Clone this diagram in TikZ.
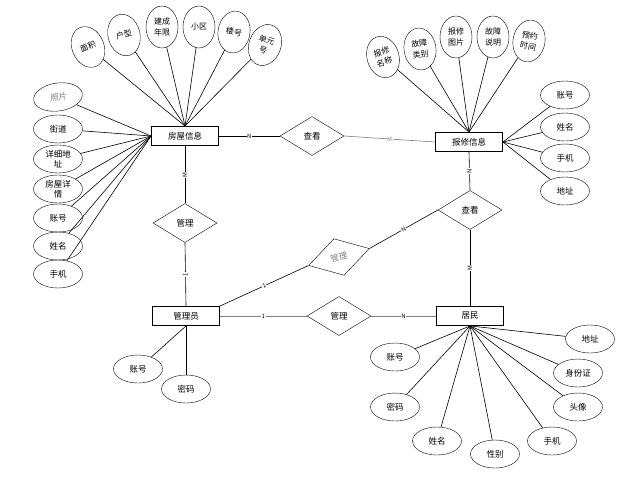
\documentclass[tikz,border=0pt]{standalone}
\usepackage{fontspec}
\setmainfont{Noto Sans CJK SC}
\newfontfamily\slantcjk[FakeSlant=0.2]{Noto Sans CJK SC}
\usetikzlibrary{shapes.geometric}
\begin{document}
\begin{tikzpicture}[x=1pt,y=-1pt,
  ent/.style={draw,line width=0.9pt,minimum width=67pt,minimum height=19pt,inner sep=0pt,font=\fontsize{8.5}{10}\selectfont},
  rel/.style={draw,diamond,aspect=1.64,minimum width=64pt,minimum height=39pt,inner sep=0pt,font=\fontsize{8.5}{10}\selectfont},
  attv/.style={draw,ellipse,minimum width=32pt,minimum height=42pt,inner sep=0pt,align=center,font=\fontsize{8}{10.5}\selectfont},
  atth/.style={draw,ellipse,minimum width=49pt,minimum height=28pt,inner sep=0pt,align=center,font=\fontsize{8.5}{10.5}\selectfont},
  lnk/.style={line width=0.6pt},
  card/.style={fill=white,inner sep=0.5pt,font=\fontsize{6}{6}\selectfont}
]
\useasboundingbox (0,0) rectangle (642,480);

% entities
\node[ent] (house) at (185,136) {房屋信息};
\node[ent] (repair) at (469,142) {报修信息};
\node[ent] (admin) at (186,316) {管理员};
\node[ent] (res) at (470,316) {居民};

% relations
\node[rel] (view1) at (312,136) {查看};
\node[rel] (mgr1) at (185,223) {管理};
\node[rel] (view2) at (470,210) {查看};
\node[rel] (mgr2) at (339,316) {管理};
\node[rel,rotate=15.6,text=gray,minimum width=63pt,minimum height=38pt] (mgr3) at (339,257) {管理};

% house top attributes
\node[attv,rotate=22] (a1) at (88,47) {面积};
\node[attv,rotate=14] (a2) at (124,35) {户型};
\node[attv] (a3) at (162,27) {建成\\年限};
\node[attv] (a4) at (199,27) {小区};
\node[attv,rotate=-8] (a5) at (234,32) {楼号};
\node[attv,rotate=-20] (a6) at (265,45) {单元\\号};
\foreach \n in {a1,a2,a3,a4,a5,a6} \draw[lnk] (\n) -- (house.north);

% house left attributes
\node[atth,rotate=8,text=gray,font=\fontsize{8.5}{10}\slantcjk] (b1) at (58,97) {照片};
\node[atth] (b2) at (58,129) {街道};
\node[atth] (b3) at (58,159) {详细地\\址};
\node[atth] (b4) at (58,189) {房屋详\\情};
\node[atth] (b5) at (58,218) {账号};
\node[atth] (b6) at (58,246) {姓名};
\node[atth] (b7) at (58,274) {手机};
\foreach \n in {b1,b2,b3,b4,b5,b6,b7} \draw[lnk] (\n) -- (house.west);

% repair top attributes
\node[attv,rotate=16] (c1) at (383,57) {报修\\名称};
\node[attv,rotate=8] (c2) at (420,49) {故障\\类别};
\node[attv] (c3) at (456,37) {报修\\图片};
\node[attv] (c4) at (493,37) {故障\\说明};
\node[attv,rotate=-10] (c5) at (529,41) {预约\\时间};
\foreach \n in {c1,c2,c3,c4,c5} \draw[lnk] (\n) -- (repair.north);

% repair right attributes
\node[atth] (d1) at (565,95) {账号};
\node[atth] (d2) at (565,127) {姓名};
\node[atth] (d3) at (565,158) {手机};
\node[atth] (d4) at (565,191) {地址};
\foreach \n in {d1,d2,d3,d4} \draw[lnk] (\n) -- (repair.east);

% admin attributes
\node[atth] (e1) at (138,369) {账号};
\node[atth] (e2) at (186,389) {密码};
\draw[lnk] (e1) -- (admin.south);
\draw[lnk] (e2) -- (admin.south);

% resident attributes
\node[atth] (f1) at (590,339) {地址};
\node[atth] (f2) at (578,373) {身份证};
\node[atth] (f3) at (578,407) {头像};
\node[atth] (f4) at (552,441) {手机};
\node[atth] (f5) at (495,454) {性别};
\node[atth] (f6) at (437,441) {姓名};
\node[atth] (f7) at (395,407) {密码};
\node[atth] (f8) at (395,357) {账号};
\foreach \n in {f1,f2,f3,f4,f5,f6,f7,f8} \draw[lnk] (\n) -- (res.south);

% relationship links
\draw[lnk] (house.east) -- node[card]{N} (view1.west);
\draw[lnk,gray] (view1.east) -- node[card]{M} (repair.west);
\draw[lnk] (house.south) -- node[card,rotate=90]{M} (mgr1.north);
\draw[lnk] (mgr1.south) -- node[card,rotate=90]{1} (admin.north);
\draw[lnk] (repair.south) -- node[card,rotate=90]{N} (view2.north);
\draw[lnk] (view2.south) -- node[card,rotate=90]{M} (res.north);
\draw[lnk,line width=0.9pt,gray] (admin.east) -- node[card,text=black]{1} (mgr2.west);
\draw[lnk,line width=0.9pt,gray] (mgr2.east) -- node[card,text=black]{N} (res.west);
\draw[lnk] (admin.north east) -- node[card,rotate=25]{1} (mgr3.west);
\draw[lnk] (mgr3.east) -- node[card,rotate=30]{N} (view2.west);
\end{tikzpicture}
\end{document}
